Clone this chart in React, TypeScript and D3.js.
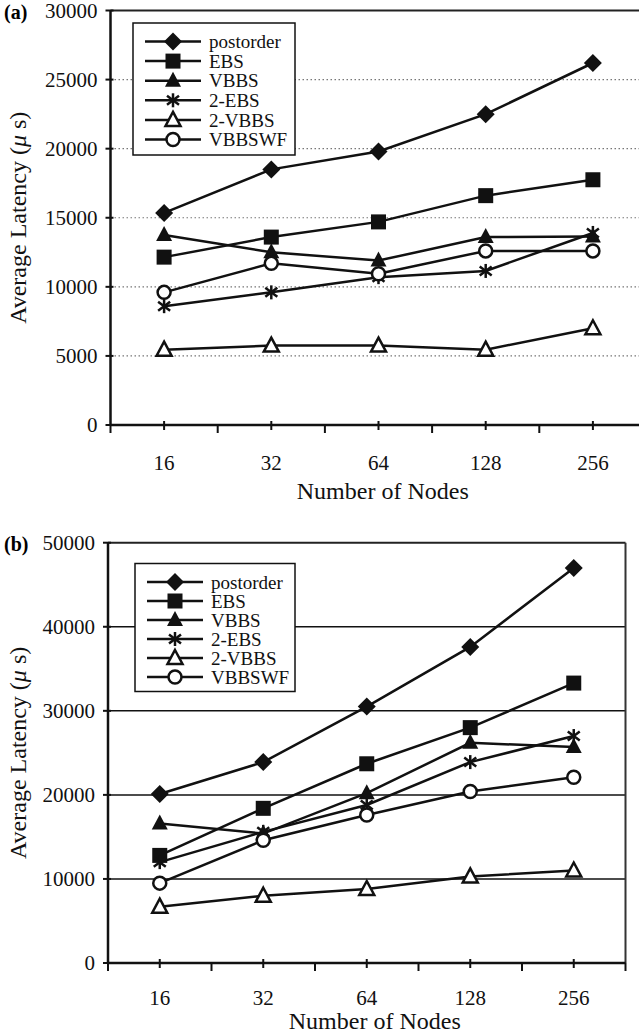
import React from "react";
import * as d3 from "d3";

const nodes = ["16", "32", "64", "128", "256"];
const seriesNames = ["postorder", "EBS", "VBBS", "2-EBS", "2-VBBS", "VBBSWF"];
const markers = ["diamond", "square", "triangle", "asterisk", "triangleOpen", "circleOpen"];

// chart (a)
const postorderA = [15350, 18500, 19800, 22500, 26200];
const ebsA = [12150, 13600, 14700, 16600, 17750];
const vbbsA = [13750, 12500, 11900, 13600, 13650];
const ebs2A = [8600, 9600, 10700, 11150, 13900];
const vbbs2A = [5450, 5750, 5750, 5450, 7000];
const vbbswfA = [9600, 11700, 10950, 12600, 12600];
const ticksA = [0, 5000, 10000, 15000, 20000, 25000, 30000];

// chart (b)
const postorderB = [20100, 23900, 30500, 37600, 47000];
const ebsB = [12800, 18400, 23700, 28000, 33300];
const vbbsB = [16600, 15400, 20200, 26200, 25700];
const ebs2B = [12000, 15600, 18800, 23900, 27000];
const vbbs2B = [6700, 8000, 8800, 10300, 11000];
const vbbswfB = [9500, 14600, 17600, 20400, 22100];
const ticksB = [0, 10000, 20000, 30000, 40000, 50000];

const FONT = "Liberation Serif, DejaVu Serif, serif";
const txt = { fontFamily: FONT };

function Marker({ kind, x, y }: { kind: string; x: number; y: number }) {
  const s = 8;
  if (kind === "diamond")
    return <path d={`M${x},${y - s - 1}L${x + s + 1},${y}L${x},${y + s + 1}L${x - s - 1},${y}Z`} fill="#111" />;
  if (kind === "square") return <rect x={x - 7.5} y={y - 7.5} width={15} height={15} fill="#111" />;
  if (kind === "triangle")
    return <path d={`M${x},${y - 9}L${x + 8},${y + 6}L${x - 8},${y + 6}Z`} fill="#111" />;
  if (kind === "triangleOpen")
    return (
      <path d={`M${x},${y - 8}L${x + 7.5},${y + 6}L${x - 7.5},${y + 6}Z`} fill="#fff" stroke="#111" strokeWidth={2.5} />
    );
  if (kind === "circleOpen") return <circle cx={x} cy={y} r={6.5} fill="#fff" stroke="#111" strokeWidth={2.5} />;
  // asterisk
  return (
    <g stroke="#111" strokeWidth={2.5}>
      <line x1={x} y1={y - 7} x2={x} y2={y + 7} />
      <line x1={x - 6} y1={y - 4.5} x2={x + 6} y2={y + 4.5} />
      <line x1={x - 6} y1={y + 4.5} x2={x + 6} y2={y - 4.5} />
    </g>
  );
}

interface PanelProps {
  label: string;
  series: number[][];
  ticks: number[];
  top: number;
  bottom: number;
  left: number;
  right: number;
  dotted: boolean;
  rightBorder: boolean;
  tickGap: number;
  titleGap: number;
  legend: { x: number; y: number; w: number; h: number; step: number };
}

function Panel(p: PanelProps) {
  const x = d3.scaleBand().domain(nodes).range([p.left, p.right]);
  const y = d3.scaleLinear().domain([0, d3.max(p.ticks)!]).range([p.bottom, p.top]);
  const cx = (n: string) => x(n)! + x.bandwidth() / 2;
  const line = d3
    .line<number>()
    .x((_, i) => cx(nodes[i]))
    .y((d) => y(d));
  const midY = (p.top + p.bottom) / 2;

  return (
    <g>
      <text x={4} y={p.top + 8} style={txt} fontWeight="bold" fontSize={20}>
        {p.label}
      </text>
      {/* grid */}
      {p.ticks.slice(1, -1).map((t) => (
        <line
          key={t}
          x1={p.left}
          x2={p.right}
          y1={y(t)}
          y2={y(t)}
          stroke={p.dotted ? "#777" : "#111"}
          strokeWidth={p.dotted ? 1.2 : 1.5}
          strokeDasharray={p.dotted ? "1.5,2.5" : undefined}
        />
      ))}
      <line x1={p.left} x2={p.right} y1={p.top} y2={p.top} stroke="#222" strokeWidth={2} />
      {p.rightBorder && <line x1={p.right} x2={p.right} y1={p.top} y2={p.bottom} stroke="#333" strokeWidth={2} />}
      {/* axes */}
      <line x1={p.left} x2={p.left} y1={p.top} y2={p.bottom} stroke="#111" strokeWidth={2.5} />
      <line x1={p.left} x2={p.right} y1={p.bottom} y2={p.bottom} stroke="#111" strokeWidth={2.5} />
      {p.ticks.map((t) => (
        <g key={t}>
          <line x1={p.left - 5} x2={p.left + 3} y1={y(t)} y2={y(t)} stroke="#111" strokeWidth={2} />
          <text x={p.left - 13} y={y(t)} dy="0.35em" textAnchor="end" style={txt} fontSize={21} fill="#111">
            {t}
          </text>
        </g>
      ))}
      {nodes.map((n) => (
        <g key={n}>
          <line x1={cx(n)} x2={cx(n)} y1={p.bottom - 4} y2={p.bottom + 5} stroke="#111" strokeWidth={2} />
          <line x1={x(n)!} x2={x(n)!} y1={p.bottom} y2={p.bottom + 8} stroke="#111" strokeWidth={2} />
          <text x={cx(n)} y={p.bottom + p.tickGap} textAnchor="middle" style={txt} fontSize={21} fill="#111">
            {n}
          </text>
        </g>
      ))}
      <line x1={p.right} x2={p.right} y1={p.bottom} y2={p.bottom + 8} stroke="#111" strokeWidth={2} />
      <text
        x={(p.left + Math.min(p.right, 639)) / 2 + 8}
        y={p.bottom + p.titleGap}
        textAnchor="middle"
        style={txt}
        fontSize={24}
        fill="#111"
      >
        Number of Nodes
      </text>
      <text
        transform={`translate(26,${midY}) rotate(-90)`}
        textAnchor="middle"
        style={txt}
        fontSize={24}
        fill="#111"
      >
        Average Latency (<tspan fontStyle="italic">μ</tspan> s)
      </text>
      {/* series */}
      {p.series.map((vals, si) => (
        <g key={si}>
          <path d={line(vals)!} fill="none" stroke="#111" strokeWidth={2.5} />
          {vals.map((v, i) => (
            <Marker key={i} kind={markers[si]} x={cx(nodes[i])} y={y(v)} />
          ))}
        </g>
      ))}
      {/* legend */}
      <rect
        x={p.legend.x}
        y={p.legend.y}
        width={p.legend.w}
        height={p.legend.h}
        fill="#fff"
        stroke="#111"
        strokeWidth={1.5}
      />
      {seriesNames.map((name, i) => {
        const ly = p.legend.y + 18.5 + i * p.legend.step;
        return (
          <g key={name}>
            <line x1={p.legend.x + 12} x2={p.legend.x + 68} y1={ly} y2={ly} stroke="#111" strokeWidth={2.5} />
            <Marker kind={markers[i]} x={p.legend.x + 40} y={ly} />
            <text x={p.legend.x + 76} y={ly} dy="0.35em" style={txt} fontSize={19} fill="#111">
              {name}
            </text>
          </g>
        );
      })}
    </g>
  );
}

export default function App() {
  return (
    <svg
      width={639}
      height={1034}
      style={{ position: "absolute", left: 0, top: 0, background: "#fff", display: "block" }}
    >
      <rect width={639} height={1034} fill="#fff" />
      <Panel
        label="(a)"
        series={[postorderA, ebsA, vbbsA, ebs2A, vbbs2A, vbbswfA]}
        ticks={ticksA}
        top={10.5}
        bottom={425}
        left={110.5}
        right={646.5}
        dotted={true}
        rightBorder={false}
        tickGap={45}
        titleGap={74}
        legend={{ x: 133, y: 23, w: 162, h: 132, step: 19.6 }}
      />
      <Panel
        label="(b)"
        series={[postorderB, ebsB, vbbsB, ebs2B, vbbs2B, vbbswfB]}
        ticks={ticksB}
        top={542.7}
        bottom={963}
        left={108}
        right={625.5}
        dotted={false}
        rightBorder={true}
        tickGap={42}
        titleGap={66}
        legend={{ x: 135, y: 563.5, w: 160, h: 128, step: 19 }}
      />
    </svg>
  );
}
